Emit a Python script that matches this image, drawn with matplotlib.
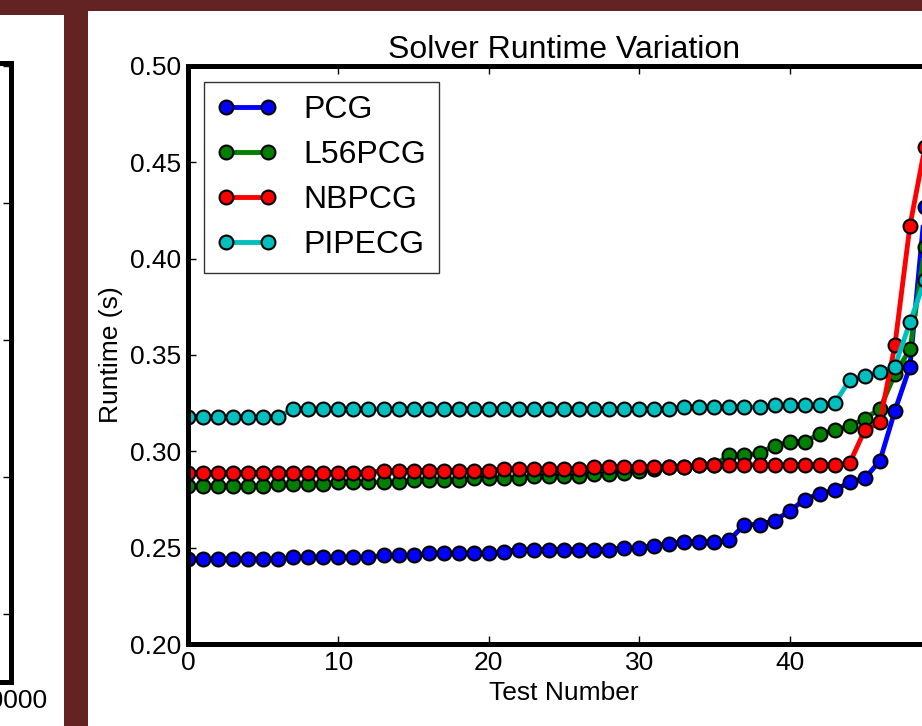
import matplotlib
matplotlib.use("Agg")
import matplotlib.pyplot as plt
from matplotlib.patches import Rectangle

plt.rcParams['font.family'] = ['Liberation Sans', 'DejaVu Sans']

# Runtime per test (seconds)
test_number = list(range(50))

pcg = [0.244, 0.244, 0.244, 0.244, 0.244, 0.244, 0.244, 0.245, 0.245, 0.245,
       0.245, 0.245, 0.245, 0.246, 0.246, 0.246, 0.247, 0.247, 0.247, 0.247,
       0.247, 0.248, 0.249, 0.249, 0.249, 0.249, 0.249, 0.249, 0.249, 0.250,
       0.250, 0.251, 0.252, 0.253, 0.253, 0.253, 0.254, 0.262, 0.262, 0.264,
       0.269, 0.275, 0.278, 0.280, 0.284, 0.286, 0.295, 0.321, 0.344, 0.427]

l56pcg = [0.282, 0.282, 0.282, 0.282, 0.282, 0.282, 0.283, 0.283, 0.283, 0.283,
          0.284, 0.284, 0.284, 0.284, 0.284, 0.285, 0.285, 0.285, 0.285, 0.286,
          0.286, 0.286, 0.286, 0.287, 0.287, 0.287, 0.287, 0.288, 0.288, 0.289,
          0.290, 0.291, 0.292, 0.292, 0.293, 0.293, 0.298, 0.298, 0.299, 0.303,
          0.305, 0.305, 0.309, 0.311, 0.313, 0.317, 0.322, 0.340, 0.353, 0.406]

nbpcg = [0.289, 0.289, 0.289, 0.289, 0.289, 0.289, 0.289, 0.289, 0.289, 0.289,
         0.289, 0.289, 0.289, 0.290, 0.290, 0.290, 0.290, 0.290, 0.290, 0.290,
         0.290, 0.291, 0.291, 0.291, 0.291, 0.291, 0.291, 0.292, 0.292, 0.292,
         0.292, 0.292, 0.292, 0.292, 0.293, 0.293, 0.293, 0.293, 0.293, 0.293,
         0.293, 0.293, 0.293, 0.293, 0.294, 0.311, 0.315, 0.355, 0.417, 0.458]

pipecg = [0.318, 0.318, 0.318, 0.318, 0.318, 0.318, 0.318, 0.322, 0.322, 0.322,
          0.322, 0.322, 0.322, 0.322, 0.322, 0.322, 0.322, 0.322, 0.322, 0.322,
          0.322, 0.322, 0.322, 0.322, 0.322, 0.322, 0.322, 0.322, 0.322, 0.322,
          0.322, 0.322, 0.322, 0.323, 0.323, 0.323, 0.323, 0.323, 0.323, 0.324,
          0.324, 0.324, 0.324, 0.325, 0.337, 0.339, 0.341, 0.344, 0.367, 0.389]

series_names = ["PCG", "L56PCG", "NBPCG", "PIPECG"]
series_colors = ["#0000ff", "#008000", "#ff0000", "#00bfbf"]

x_ticks = [0, 10, 20, 30, 40, 50]
y_ticks = [0.20, 0.25, 0.30, 0.35, 0.40, 0.45, 0.50]

W, H = 922, 726
maroon = "#632323"

fig = plt.figure(figsize=(W / 100, H / 100), dpi=100, facecolor=maroon)

# white slide panels behind the charts
fig.add_artist(Rectangle((0, 0), 64 / W, (H - 15) / H, transform=fig.transFigure,
                         facecolor="white", edgecolor="none", zorder=-1))
fig.add_artist(Rectangle((88 / W, 0), (W - 88) / W, (H - 11) / H, transform=fig.transFigure,
                         facecolor="white", edgecolor="none", zorder=-1))

# edge of the neighbouring chart on the left
ax0 = fig.add_axes([-500 / W, 44 / H, 511 / W, 619 / H])
ax0.set_xlim(0, 10000)
ax0.set_ylim(0, 4.52)
ax0.set_xticks([10000])
ax0.set_xticklabels(["10000"])
ax0.set_yticks([0.5, 1.5, 2.5, 3.5, 4.5])
ax0.set_yticklabels([])
ax0.tick_params(direction="in", length=6, width=1, top=True, right=True,
                labelsize=19, pad=5)
for s in ax0.spines.values():
    s.set_linewidth(3.6)

# main chart
ax = fig.add_axes([188 / W, (H - 644) / H, 752 / W, 578 / H])

for name, vals, col in zip(series_names, [pcg, l56pcg, nbpcg, pipecg], series_colors):
    ax.plot(test_number, vals, "-o", color=col, lw=3.5, ms=10,
            mec="k", mew=1.5, label=name)

ax.set_xlim(0, 50)
ax.set_ylim(0.20, 0.50)
ax.set_xticks(x_ticks)
ax.set_yticks(y_ticks)
ax.set_yticklabels(["%.2f" % t for t in y_ticks])
ax.tick_params(direction="in", length=6, width=1, top=True, right=True,
               labelsize=19, pad=5)
for s in ax.spines.values():
    s.set_linewidth(3.6)

ax.set_title("Solver Runtime Variation", fontsize=23, pad=6)
ax.set_xlabel("Test Number", fontsize=19, labelpad=4)
ax.set_ylabel("Runtime (s)", fontsize=19, labelpad=5)

leg = ax.legend(loc="upper left", fontsize=23, numpoints=2, fancybox=False,
                borderpad=0.4, labelspacing=0.47, handlelength=1.9,
                handletextpad=0.8, borderaxespad=0.5)
leg.get_frame().set_edgecolor("k")
leg.get_frame().set_linewidth(1)

fig.savefig("out.png", dpi=100, facecolor=maroon)
